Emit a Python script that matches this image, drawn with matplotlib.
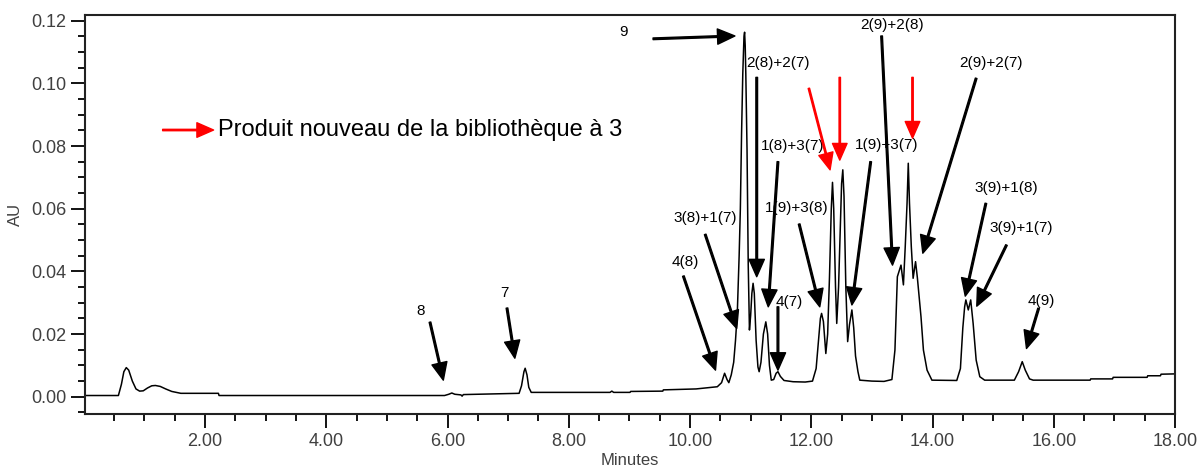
import matplotlib
matplotlib.use("Agg")
import matplotlib.pyplot as plt
from matplotlib.ticker import MultipleLocator, FormatStrFormatter

plt.rcParams['font.family'] = ['Liberation Sans', 'DejaVu Sans']

# chromatogram trace (minutes, AU)
minutes = [
    0.02, 0.57, 0.62, 0.66, 0.70, 0.74, 0.80, 0.86, 0.92, 0.98, 1.05, 1.12,
    1.18, 1.26, 1.35, 1.45, 1.55, 1.60, 2.22, 2.23, 5.95, 6.02, 6.07, 6.12,
    6.22, 6.24, 6.26, 7.18, 7.22, 7.26, 7.28, 7.31, 7.34, 7.38, 8.68, 8.71,
    8.74, 9.01, 9.02, 9.55, 9.56, 10.10, 10.45, 10.52, 10.57, 10.61, 10.64,
    10.68, 10.72, 10.75, 10.78, 10.81, 10.83, 10.85, 10.87, 10.89, 10.90,
    10.91, 10.92, 10.94, 10.96, 10.98, 11.00, 11.02, 11.04, 11.06, 11.09,
    11.12, 11.14, 11.17, 11.21, 11.25, 11.28, 11.31, 11.34, 11.38, 11.42,
    11.45, 11.49, 11.55, 11.70, 11.90, 12.02, 12.08, 12.12, 12.15, 12.17,
    12.20, 12.24, 12.27, 12.30, 12.33, 12.35, 12.37, 12.40, 12.42, 12.45,
    12.48, 12.50, 12.52, 12.54, 12.57, 12.60, 12.63, 12.67, 12.70, 12.73,
    12.77, 12.80, 13.00, 13.20, 13.33, 13.38, 13.42, 13.48, 13.52, 13.55,
    13.58, 13.60, 13.62, 13.65, 13.68, 13.72, 13.75, 13.81, 13.85, 13.91,
    13.99, 14.40, 14.46, 14.50, 14.53, 14.55, 14.59, 14.63, 14.67, 14.72,
    14.78, 14.86, 15.35, 15.42, 15.48, 15.53, 15.60, 15.66, 16.60, 16.61,
    16.97, 16.98, 17.54, 17.55, 17.76, 17.77, 18.00,
]
absorbance = [
    0.0004, 0.0004, 0.0040, 0.0080, 0.0093, 0.0085, 0.0050, 0.0025, 0.0018,
    0.0019, 0.0028, 0.0035, 0.0036, 0.0033, 0.0025, 0.0017, 0.0013, 0.0011,
    0.0011, 0.0004, 0.0004, 0.0008, 0.0012, 0.0008, 0.0006, 0.0002, 0.0007,
    0.0011, 0.0035, 0.0080, 0.0091, 0.0070, 0.0030, 0.0014, 0.0014, 0.0018,
    0.0014, 0.0014, 0.0017, 0.0018, 0.0022, 0.0025, 0.0032, 0.0045, 0.0075,
    0.0055, 0.0045, 0.0070, 0.0110, 0.0180, 0.0270, 0.0450, 0.0600, 0.0840,
    0.1030, 0.1150, 0.1163, 0.1120, 0.1030, 0.0790, 0.0420, 0.0213, 0.0260,
    0.0330, 0.0362, 0.0330, 0.0180, 0.0095, 0.0080, 0.0110, 0.0200, 0.0239,
    0.0200, 0.0100, 0.0053, 0.0055, 0.0075, 0.0080, 0.0065, 0.0052, 0.0048,
    0.0047, 0.0050, 0.0090, 0.0180, 0.0250, 0.0266, 0.0240, 0.0138, 0.0200,
    0.0380, 0.0600, 0.0684, 0.0600, 0.0350, 0.0234, 0.0350, 0.0550, 0.0680,
    0.0724, 0.0640, 0.0350, 0.0176, 0.0230, 0.0277, 0.0220, 0.0130, 0.0080,
    0.0053, 0.0050, 0.0049, 0.0055, 0.0149, 0.0383, 0.0420, 0.0357, 0.0479,
    0.0618, 0.0745, 0.0618, 0.0479, 0.0378, 0.0431, 0.0380, 0.0255, 0.0149,
    0.0085, 0.0053, 0.0052, 0.0090, 0.0220, 0.0287, 0.0309, 0.0277, 0.0309,
    0.0234, 0.0117, 0.0064, 0.0053, 0.0053, 0.0080, 0.0112, 0.0085, 0.0057,
    0.0053, 0.0053, 0.0057, 0.0057, 0.0062, 0.0062, 0.0067, 0.0067, 0.0072,
    0.0073,
]

# peak labels: text, text position, arrow tail, arrow tip
peak_labels = [
    ("9",         (8.91, 0.1164), (9.39, 0.1142), (10.74, 0.1151)),
    ("2(8)+2(7)", (11.45, 0.1065), (11.10, 0.1019), (11.10, 0.0383)),
    ("1(8)+3(7)", (11.69, 0.0801), (11.45, 0.0750), (11.29, 0.0287)),
    ("1(9)+3(8)", (11.76, 0.0601), (11.80, 0.0551), (12.14, 0.0287)),
    ("4(7)",      (11.63, 0.0301), (11.45, 0.0287), (11.45, 0.0085)),
    ("3(8)+1(7)", (10.25, 0.0569), (10.25, 0.0518), (10.77, 0.0218)),
    ("4(8)",      (9.92, 0.0429), (9.89, 0.0385), (10.42, 0.0085)),
    ("8",         (5.55, 0.0274), (5.71, 0.0238), (5.93, 0.0053)),
    ("7",         (6.93, 0.0331), (6.98, 0.0283), (7.11, 0.0123)),
    ("2(9)+2(8)", (13.33, 0.1186), (13.16, 0.1151), (13.34, 0.0420)),
    ("1(9)+3(7)", (13.24, 0.0803), (12.98, 0.0750), (12.67, 0.0293)),
    ("2(9)+2(7)", (14.96, 0.1064), (14.72, 0.1016), (13.84, 0.0458)),
    ("3(9)+1(8)", (15.22, 0.0665), (14.88, 0.0617), (14.54, 0.0321)),
    ("3(9)+1(7)", (15.47, 0.0539), (15.22, 0.0484), (14.73, 0.0289)),
    ("4(9)",      (15.80, 0.0305), (15.75, 0.0282), (15.55, 0.0154)),
]

# red arrows marking the new products: tail, tip
new_products = [
    ((11.96, 0.0984), (12.31, 0.0724)),
    ((12.47, 0.1019), (12.47, 0.0755)),
    ((13.67, 0.1019), (13.67, 0.0825)),
]

legend_text = "Produit nouveau de la bibliothèque à 3"

fig = plt.figure(figsize=(11.98, 4.71), dpi=100)
ax = fig.add_axes([0.0710, 0.121, 0.9098, 0.8472])

ax.plot(minutes, absorbance, color="black", lw=1.1)

ax.set_xlim(0.02, 18.0)
ax.set_ylim(-0.0055, 0.1218)

ax.xaxis.set_major_locator(MultipleLocator(2))
ax.xaxis.set_minor_locator(MultipleLocator(0.5))
ax.yaxis.set_major_locator(MultipleLocator(0.02))
ax.yaxis.set_minor_locator(MultipleLocator(0.005))
ax.xaxis.set_major_formatter(FormatStrFormatter("%.2f"))
ax.yaxis.set_major_formatter(FormatStrFormatter("%.2f"))

grey = "#404040"
ax.tick_params(which="both", direction="out", colors="black", labelcolor=grey,
               labelsize=13, width=1.3)
ax.tick_params(which="major", length=10)
ax.tick_params(which="minor", length=5)
for s in ax.spines.values():
    s.set_linewidth(1.5)
    s.set_color("#222222")

ax.set_xlabel("Minutes", fontsize=12, color=grey, labelpad=2)
ax.set_ylabel("AU", fontsize=12, color=grey, labelpad=6)

arrow_k = dict(facecolor="black", edgecolor="black", width=1.2,
               headwidth=11, headlength=12.5, shrink=0)
arrow_r = dict(facecolor="red", edgecolor="red", width=1.0,
               headwidth=10.5, headlength=12, shrink=0)

for label, txy, tail, tip in peak_labels:
    ax.text(txy[0], txy[1], label, fontsize=11, ha="center", va="center")
    ax.annotate("", xy=tip, xytext=tail, arrowprops=arrow_k)

for tail, tip in new_products:
    ax.annotate("", xy=tip, xytext=tail, arrowprops=arrow_r)

ax.annotate("", xy=(2.14, 0.0851), xytext=(1.30, 0.0851), arrowprops=arrow_r)
ax.text(2.21, 0.0851, legend_text, fontsize=17, ha="left", va="center")

fig.savefig("out.png", dpi=100)
